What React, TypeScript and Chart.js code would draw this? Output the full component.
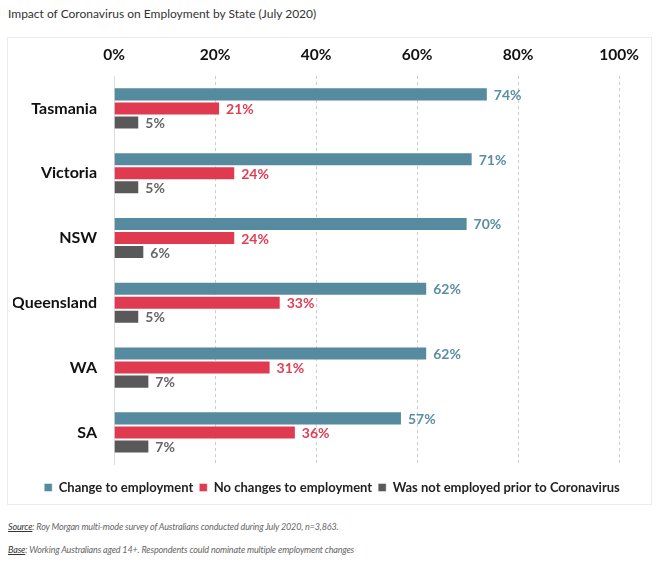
import React, { useEffect, useRef } from "react";
import { Chart, registerables } from "chart.js";

Chart.register(...registerables);

const states = ["Tasmania", "Victoria", "NSW", "Queensland", "WA", "SA"];
const changeToEmployment = [74, 71, 70, 62, 62, 57];
const noChanges = [21, 24, 24, 33, 31, 36];
const notEmployed = [5, 5, 6, 5, 7, 7];
const seriesNames = [
  "Change to employment",
  "No changes to employment",
  "Was not employed prior to Coronavirus",
];
const barColors = ["#568a9f", "#e03a50", "#595959"];
const labelColors = ["#5a8ea2", "#e23d53", "#666666"];
const xTicks = [0, 20, 40, 60, 80, 100];

const FONT = "Lato, 'Open Sans', sans-serif";

const valueLabels = {
  id: "valueLabels",
  afterDatasetsDraw(chart: any) {
    const ctx = chart.ctx;
    ctx.save();
    ctx.font = `bold 14px ${FONT}`;
    ctx.textBaseline = "middle";
    ctx.textAlign = "left";
    chart.data.datasets.forEach((ds: any, i: number) => {
      const meta = chart.getDatasetMeta(i);
      ctx.fillStyle = labelColors[i];
      meta.data.forEach((el: any, j: number) => {
        ctx.fillText(`${ds.data[j]}%`, el.x + 6, el.y + 1);
      });
    });
    ctx.restore();
  },
};

export default function App() {
  const ref = useRef<HTMLCanvasElement>(null);
  useEffect(() => {
    document.body.style.margin = "0";
    const chart = new Chart(ref.current!, {
      type: "bar",
      data: {
        labels: states,
        datasets: [changeToEmployment, noChanges, notEmployed].map((d, i) => ({
          label: seriesNames[i],
          data: d,
          backgroundColor: barColors[i],
          borderColor: "rgba(255,255,255,0.45)",
          borderWidth: 1,
          categoryPercentage: 0.65,
          barPercentage: 1,
        })),
      },
      options: {
        indexAxis: "y",
        animation: false,
        responsive: false,
        layout: { padding: { left: 5, right: 0, top: 0, bottom: 0 } },
        plugins: {
          legend: {
            position: "bottom",
            title: { display: true, text: " ", padding: 0, font: { size: 8.5 } },
            labels: {
              boxWidth: 8,
              boxHeight: 8,
              padding: 6,
              color: "#222",
              font: { family: FONT, size: 13, weight: "bold" },
            },
          },
          tooltip: { enabled: false },
        },
        scales: {
          x: {
            position: "top",
            min: 0,
            max: 100,
            afterBuildTicks(scale: any) {
              scale.ticks = xTicks.map((v) => ({ value: v }));
            },
            afterFit(scale: any) {
              scale.height = 38;
            },
            ticks: {
              color: "#111",
              font: { family: FONT, size: 15.5, weight: "bold" },
              callback: (v: any) => `${v}%`,
              padding: 12,
            },
            grid: {
              color: "#cccccc",
              drawTicks: false,
            },
            border: { display: false, dash: [3, 3] },
          },
          y: {
            afterFit(scale: any) {
              scale.width = 101;
            },
            ticks: {
              color: "#111",
              font: { family: FONT, size: 16, weight: "bold" },
              padding: 17,
            },
            grid: { display: false, drawTicks: false },
            border: { display: true, color: "#dddddd" },
          },
          yRight: {
            type: "category",
            axis: "y",
            position: "right",
            labels: states,
            afterFit(scale: any) {
              scale.width = 28;
            },
            ticks: { display: false },
            grid: { display: false, drawTicks: false },
            border: { display: false },
          },
        },
      } as any,
      plugins: [valueLabels],
    });
    return () => chart.destroy();
  }, []);

  const noteStyle: React.CSSProperties = {
    position: "absolute",
    left: 8,
    fontSize: 9,
    letterSpacing: -0.15,
    fontStyle: "italic",
    color: "#666",
    whiteSpace: "nowrap",
  };

  return (
    <div style={{ position: "relative", width: 660, height: 571, fontFamily: FONT, background: "#fff" }}>
      <div style={{ position: "absolute", left: 8, top: 6, fontSize: 12, color: "#333" }}>
        Impact of Coronavirus on Employment by State (July 2020)
      </div>
      <div
        style={{
          position: "absolute",
          left: 7,
          top: 37,
          width: 643,
          height: 466,
          border: "1px solid #ececec",
        }}
      >
        <canvas ref={ref} width={643} height={466} style={{ display: "block" }} />
      </div>
      <div style={{ ...noteStyle, top: 521 }}>
        <span style={{ color: "#333", textDecoration: "underline" }}>Source</span>: Roy Morgan multi-mode survey of
        Australians conducted during July 2020, n=3,863.
      </div>
      <div style={{ ...noteStyle, top: 544 }}>
        <span style={{ color: "#333", textDecoration: "underline" }}>Base</span>: Working Australians aged 14+.
        Respondents could nominate multiple employment changes
      </div>
    </div>
  );
}
